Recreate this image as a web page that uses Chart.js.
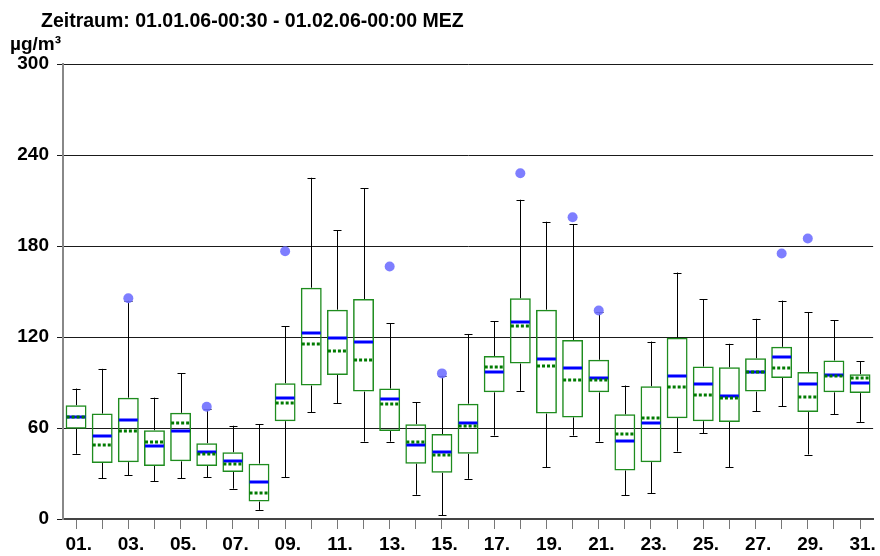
<!DOCTYPE html>
<html>
<head>
<meta charset="utf-8">
<script src="https://cdn.jsdelivr.net/npm/chart.js@4"></script>
<style>
  html, body { margin: 0; padding: 0; background: #fff; }
  canvas { display: block; }
</style>
</head>
<body>
<canvas id="chart" width="880" height="556"></canvas>
<script>
const titleText = "Zeitraum: 01.01.06-00:30 - 01.02.06-00:00 MEZ";
const unitText = "µg/m³";

// one entry per day of January 2006
const days = ["01.", "02.", "03.", "04.", "05.", "06.", "07.", "08.", "09.", "10.",
  "11.", "12.", "13.", "14.", "15.", "16.", "17.", "18.", "19.", "20.",
  "21.", "22.", "23.", "24.", "25.", "26.", "27.", "28.", "29.", "30.", "31."];

const whiskerLow = [43, 27, 29, 25, 27, 27.5, 20, 6, 27.5, 70.5,
  76.5, 51, 51, 16, 2.5, 26.5, 55, 84.5, 34, 55,
  51, 15.5, 17, 44.5, 56.5, 34, 71, 74.5, 42.5, 69, 64];
const q1 = [59.5, 37, 37.5, 35, 38, 35, 31, 11.5, 64.5, 88,
  95, 84, 58, 36.5, 30.5, 43, 83.5, 102.5, 69.5, 67,
  83.5, 32, 37.5, 66.5, 64.5, 64, 84, 93, 70.5, 83.5, 83];
const median = [67, 49, 58, 50.5, 63, 43, 36, 17, 76.5, 115.5,
  110.5, 105, 75.5, 51, 42, 61, 100.5, 127, 101, 91.5,
  91.5, 56, 66.5, 87, 82, 80, 97, 99.5, 80.5, 94, 93];
const mean = [67, 54.5, 65.5, 48, 58, 44.5, 38, 24.5, 80, 122.5,
  119.5, 116.5, 79, 49, 44.5, 63.5, 97, 130, 105.5, 99.5,
  93, 51.5, 63.5, 94.5, 89, 81, 97, 107, 89, 95, 90];
const q3 = [75, 69.5, 80, 58.5, 70, 50, 44, 36.5, 89.5, 152.5,
  138, 145, 86, 62.5, 56, 76, 107.5, 145.5, 138, 118,
  105, 69, 87.5, 119.5, 100.5, 100, 106, 113.5, 97, 104.5, 95.5];
const whiskerHigh = [86, 99, 144, 80, 96, 72.5, 61.5, 62.5, 127, 225,
  190.5, 218, 129, 77, 94.5, 122, 130.5, 210.5, 196, 194.5,
  136.5, 88, 117, 162.5, 145, 115.5, 132, 144, 136.5, 131, 104];
const outliers = [null, null, 145.5, null, null, 74, null, null, 176.5, null,
  null, null, 166.5, null, 96, null, null, 228, null, 199,
  137.5, null, null, null, null, null, null, 175, 185, null, null];

const yTicks = [0, 60, 120, 180, 240, 300];

const FONT = '"Liberation Sans", Arial, sans-serif';

// whiskers under the boxes, mean and median lines on top
const boxExtras = {
  id: "boxExtras",
  beforeDatasetsDraw(chart) {
    const { ctx, scales: { x, y } } = chart;
    ctx.save();
    ctx.strokeStyle = "#000";
    ctx.lineWidth = 1;
    days.forEach((d, i) => {
      const cx = Math.round(x.getPixelForValue(i)) + 0.5;
      const lo = y.getPixelForValue(whiskerLow[i]);
      const hi = y.getPixelForValue(whiskerHigh[i]);
      const b = y.getPixelForValue(q1[i]);
      const t = y.getPixelForValue(q3[i]);
      ctx.beginPath();
      ctx.moveTo(cx, lo); ctx.lineTo(cx, b);
      ctx.moveTo(cx, t); ctx.lineTo(cx, hi);
      ctx.moveTo(cx - 4, Math.round(lo) + 0.5); ctx.lineTo(cx + 4, Math.round(lo) + 0.5);
      ctx.moveTo(cx - 4, Math.round(hi) + 0.5); ctx.lineTo(cx + 4, Math.round(hi) + 0.5);
      ctx.stroke();
    });
    ctx.restore();
  },
  afterDatasetsDraw(chart) {
    const { ctx, scales: { x, y } } = chart;
    const bars = chart.getDatasetMeta(0).data;
    ctx.save();
    ctx.lineWidth = 3;
    days.forEach((d, i) => {
      const cx = x.getPixelForValue(i);
      const half = bars[i].width / 2 - 1;
      const ym = Math.round(y.getPixelForValue(mean[i]));
      ctx.setLineDash([]);
      ctx.strokeStyle = "#0000ff";
      ctx.beginPath();
      ctx.moveTo(cx - half, ym); ctx.lineTo(cx + half, ym);
      ctx.stroke();

      const yd = Math.round(y.getPixelForValue(median[i]));
      ctx.setLineDash([3, 2]);
      ctx.strokeStyle = "#007a00";
      ctx.beginPath();
      ctx.moveTo(cx - half, yd); ctx.lineTo(cx + half, yd);
      ctx.stroke();
    });
    ctx.restore();
  }
};

const headings = {
  id: "headings",
  afterDraw(chart) {
    const ctx = chart.ctx;
    ctx.save();
    ctx.fillStyle = "#000";
    ctx.textBaseline = "alphabetic";
    ctx.textAlign = "left";
    ctx.font = "bold 19.5px " + FONT;
    ctx.fillText(titleText, 41, 27);
    ctx.font = "bold 19px " + FONT;
    ctx.fillText(unitText, 10, 50);
    ctx.restore();
  }
};

new Chart(document.getElementById("chart"), {
  type: "bar",
  data: {
    labels: days,
    datasets: [
      {
        label: "Box",
        data: q1.map((v, i) => [v, q3[i]]),
        backgroundColor: "rgba(0,0,0,0)",
        borderColor: "#1e8c1e",
        borderWidth: 1.5,
        borderSkipped: false,
        barPercentage: 0.8,
        categoryPercentage: 1,
        grouped: false
      },
      {
        type: "line",
        label: "Ausreißer",
        data: outliers,
        showLine: false,
        pointRadius: 5,
        pointBorderWidth: 0,
        pointBackgroundColor: "rgba(112,112,255,0.9)",
        pointBorderColor: "rgba(0,0,0,0)"
      }
    ]
  },
  options: {
    responsive: false,
    animation: false,
    layout: { padding: { top: 64, right: 6, left: 0, bottom: 0 } },
    plugins: {
      legend: { display: false },
      tooltip: { enabled: false }
    },
    scales: {
      x: {
        type: "category",
        offset: true,
        grid: {
          offset: false,
          drawOnChartArea: false,
          drawTicks: true,
          tickLength: 10,
          color: "#777"
        },
        border: { color: "#444", width: 2 },
        ticks: {
          autoSkip: false,
          maxRotation: 0,
          padding: 4,
          color: "#000",
          font: { family: FONT, size: 19, weight: "bold" },
          // label every second day; the leading space keeps the digits centred on the tick
          callback: (val, i) => (i % 2 === 0 ? " " + days[i] : "")
        },
        afterFit: (scale) => { scale.height = 37; }
      },
      y: {
        min: yTicks[0],
        max: yTicks[yTicks.length - 1],
        afterBuildTicks: (scale) => { scale.ticks = yTicks.map((v) => ({ value: v })); },
        grid: { color: "#1a1a1a", lineWidth: 1, tickLength: 6 },
        border: { color: "#888", width: 2 },
        ticks: {
          padding: 8,
          color: "#000",
          font: { family: FONT, size: 19, weight: "bold" }
        },
        afterFit: (scale) => { scale.width = 63; }
      }
    }
  },
  plugins: [boxExtras, headings]
});
</script>
</body>
</html>
